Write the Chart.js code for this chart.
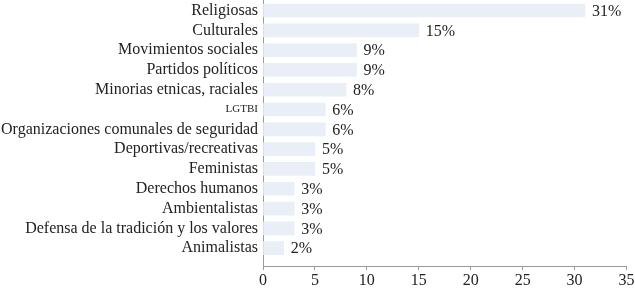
<!DOCTYPE html>
<html lang="es">
<head>
<meta charset="UTF-8">
<title>Organizaciones</title>
<script src="https://cdn.jsdelivr.net/npm/chart.js"></script>
<style>
  html, body { margin: 0; padding: 0; background: #fff; }
  #wrap { width: 635px; height: 288px; position: relative; }
</style>
</head>
<body>
<div id="wrap"><canvas id="chart"></canvas></div>
<script>
  const categories = [
    'Religiosas', 'Culturales', 'Movimientos sociales', 'Partidos políticos',
    'Minorias etnicas, raciales', 'LGTBI', 'Organizaciones comunales de seguridad',
    'Deportivas/recreativas', 'Feministas', 'Derechos humanos', 'Ambientalistas',
    'Defensa de la tradición y los valores', 'Animalistas'
  ];
  const values = [31, 15, 9, 9, 8, 6, 6, 5, 5, 3, 3, 3, 2];
  const xTicks = [0, 5, 10, 15, 20, 25, 30, 35];

  const serif = '"Liberation Serif", "Times New Roman", serif';
  const textColor = '#222';
  const axisColor = '#9a9a9a';

  // value labels to the right of each bar
  const valueLabels = {
    id: 'valueLabels',
    afterDatasetsDraw(chart) {
      const ctx = chart.ctx;
      const meta = chart.getDatasetMeta(0);
      ctx.save();
      ctx.font = '16px ' + serif;
      ctx.fillStyle = textColor;
      ctx.textAlign = 'left';
      ctx.textBaseline = 'middle';
      meta.data.forEach((bar, i) => {
        ctx.fillText(values[i] + '%', bar.x + 7, bar.y + 1);
      });
      ctx.restore();
    }
  };

  new Chart(document.getElementById('chart'), {
    type: 'bar',
    data: {
      datasets: [{
        data: values.map((v, i) => ({ x: v, y: i })),
        backgroundColor: '#e9eef7',
        borderWidth: 0,
        barThickness: 13
      }]
    },
    options: {
      indexAxis: 'y',
      responsive: true,
      maintainAspectRatio: false,
      animation: false,
      events: [],
      layout: { padding: 0 },
      plugins: { legend: { display: false }, tooltip: { enabled: false } },
      scales: {
        y: {
          type: 'linear',
          reverse: true,
          bounds: 'data',
          offset: false,
          min: -0.53,
          max: 12.9,
          afterBuildTicks: scale => { scale.ticks = categories.map((c, i) => ({ value: i })); },
          afterFit: scale => { scale.width = 263; scale.paddingTop = 0; scale.paddingBottom = 0; },
          grid: { display: false, drawTicks: false },
          border: { display: true, color: axisColor, width: 1 },
          ticks: {
            autoSkip: false,
            padding: 5,
            color: textColor,
            callback: v => categories[v],
            font: c => ({
              family: serif,
              size: c.tick && categories[c.tick.value] === 'LGTBI' ? 11 : 16
            })
          }
        },
        x: {
          type: 'linear',
          bounds: 'data',
          min: 0,
          max: 35,
          afterBuildTicks: scale => { scale.ticks = xTicks.map(v => ({ value: v })); },
          afterFit: scale => { scale.height = 22; scale.paddingRight = 8.5; },
          grid: { display: true, drawOnChartArea: false, drawTicks: true, tickLength: 4, color: axisColor },
          border: { display: true, color: axisColor, width: 1 },
          ticks: {
            autoSkip: false,
            padding: 1,
            color: textColor,
            maxRotation: 0,
            font: { family: serif, size: 16 }
          }
        }
      }
    },
    plugins: [valueLabels]
  });
</script>
</body>
</html>
